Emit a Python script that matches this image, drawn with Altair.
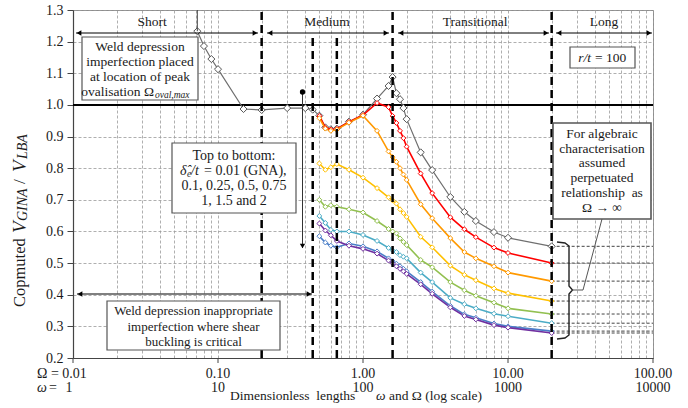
import altair as alt
import pandas as pd

# ---------------- data ----------------
series_names = ["0.01 (GNA)", "0.1", "0.25", "0.5", "0.75", "1", "1.5", "2"]
series_colors = ["#6f6f6f", "#ff0000", "#ff9900", "#ffc000", "#92c050",
                 "#4bacc6", "#4a7ec8", "#7030a0"]

omega_gna = [0.072, 0.08, 0.09, 0.1, 0.15, 0.2, 0.3, 0.4, 0.45, 0.5, 0.55, 0.6,
             0.66, 0.8, 1.0, 1.25, 1.5, 1.6, 1.7, 1.8, 1.9, 2.0, 2.5, 3, 4, 5,
             6, 8, 10, 20]
ratio_gna = [1.233, 1.186, 1.145, 1.113, 0.987, 0.984, 0.99, 0.99, 0.985, 0.966,
             0.929, 0.923, 0.925, 0.947, 0.969, 1.02, 1.06, 1.088, 1.037, 1.018,
             0.99, 0.955, 0.85, 0.794, 0.709, 0.662, 0.633, 0.598, 0.58, 0.553]

omega_imp = [0.5, 0.55, 0.6, 0.66, 0.8, 1.0, 1.25, 1.5, 1.6, 1.7, 1.8, 1.9, 2.0,
             2.5, 3, 4, 5, 6, 8, 10, 20]
ratio_01 = [0.965, 0.928, 0.922, 0.924, 0.946, 0.968, 1.006, 0.993, 0.965, 0.943,
            0.918, 0.895, 0.868, 0.783, 0.721, 0.645, 0.607, 0.582, 0.549, 0.532, 0.5]
ratio_025 = [0.958, 0.925, 0.918, 0.922, 0.944, 0.966, 0.918, 0.853, 0.835, 0.82,
             0.8, 0.78, 0.763, 0.686, 0.642, 0.579, 0.535, 0.515, 0.49, 0.47, 0.443]
ratio_05 = [0.815, 0.795, 0.803, 0.813, 0.795, 0.77, 0.737, 0.708, 0.698, 0.688,
            0.67, 0.658, 0.646, 0.583, 0.55, 0.492, 0.463, 0.446, 0.42, 0.405, 0.38]
ratio_075 = [0.70, 0.678, 0.683, 0.678, 0.67, 0.66, 0.633, 0.608, 0.60, 0.594,
             0.578, 0.567, 0.557, 0.51, 0.487, 0.44, 0.414, 0.397, 0.375, 0.357, 0.339]
ratio_1 = [0.649, 0.627, 0.605, 0.60, 0.60, 0.589, 0.57, 0.548, 0.54, 0.535,
           0.525, 0.52, 0.515, 0.47, 0.44, 0.39, 0.37, 0.357, 0.34, 0.332, 0.31]
ratio_15 = [0.585, 0.565, 0.555, 0.55, 0.562, 0.553, 0.537, 0.515, 0.506, 0.498,
            0.49, 0.482, 0.474, 0.44, 0.41, 0.365, 0.338, 0.327, 0.309, 0.30, 0.285]
ratio_2 = [0.625, 0.603, 0.588, 0.57, 0.555, 0.545, 0.53, 0.508, 0.499, 0.49,
           0.482, 0.474, 0.466, 0.433, 0.403, 0.36, 0.333, 0.322, 0.304, 0.296, 0.279]

region_names = ["Short", "Medium", "Transitional", "Long"]
region_bounds = [0.2, 0.45, 0.66, 1.6, 20]
x_major = [0.1, 1, 10, 100]
x_labels_omega = ["0.10", "1.00", "10.00", "100.00"]
x_labels_small = ["10", "100", "1000", "10000"]
y_ticks = [0.2, 0.3, 0.4, 0.5, 0.6, 0.7, 0.8, 0.9, 1.0, 1.1, 1.2, 1.3]

# ---------------- layout helpers ----------------
SERIF = "Liberation Serif"
INK = "#1a1a1a"
NB = "\u00a0"
W, H, LEFT, TOP = 580, 348, 73, 10
XS = alt.Scale(type="log", domain=[0.01, 100], nice=False)
YS = alt.Scale(domain=[0.2, 1.3], nice=False, zero=False)
x_grid = [round(k * 10 ** e, 6) for e in range(-2, 2) for k in range(1, 10)] + [100]
XA = alt.Axis(values=x_grid, labels=False, ticks=False, grid=True, gridColor="#9a9a9a",
              gridDash=[3, 2], gridWidth=0.8, domainColor="#444444", domainWidth=1.2,
              title=None)
YA = alt.Axis(values=y_ticks, format=".1f", labelFont=SERIF, labelFontSize=14,
              labelColor=INK, tickColor="#444444", tickSize=6, labelPadding=4,
              grid=True, gridColor="#9a9a9a", gridDash=[3, 2], gridWidth=0.8,
              domainColor="#444444", domainWidth=1.2, title=None)


def px2x(px):
    return 10 ** (-2 + (px - LEFT) * 4.0 / W)


def py2y(py):
    return 1.3 - (py - TOP) * 1.1 / H


def XE(f="x"):
    return alt.X(f"{f}:Q", scale=XS, axis=XA)


def YE(f="y"):
    return alt.Y(f"{f}:Q", scale=YS, axis=YA)


ONE = pd.DataFrame({"a": [0]})
layers = []


def T(text, px, py, size=13, align="center", italic=False, angle=0, outside=False):
    props = dict(text=text.replace(" ", NB), font=SERIF, fontSize=size, align=align,
                 baseline="middle", fontStyle="italic" if italic else "normal", color=INK)
    if angle:
        props["angle"] = angle
    if outside:
        return alt.Chart(ONE).mark_text(**props).encode(
            x=alt.value(px - LEFT), y=alt.value(py - TOP))
    d = pd.DataFrame({"x": [px2x(px)], "y": [py2y(py)]})
    return alt.Chart(d).mark_text(**props).encode(x=XE(), y=YE())


def box(px1, py1, px2, py2, sw=1.2):
    d = pd.DataFrame({"x": [px2x(px1)], "x2": [px2x(px2)], "y": [py2y(py1)], "y2": [py2y(py2)]})
    return alt.Chart(d).mark_rect(fill="white", stroke="#555555", strokeWidth=sw).encode(
        x=XE(), x2="x2:Q", y=YE(), y2="y2:Q")


def head(px, py, shape, size=30):
    d = pd.DataFrame({"x": [px2x(px)], "y": [py2y(py)]})
    return alt.Chart(d).mark_point(shape=shape, filled=True, color="black", size=size,
                                   opacity=1).encode(x=XE(), y=YE())


def hline_arrow(px1, px2, py):
    d = pd.DataFrame({"x": [px2x(px1)], "x2": [px2x(px2)], "y": [py2y(py)]})
    r = alt.Chart(d).mark_rule(color="black", strokeWidth=1).encode(x=XE(), x2="x2:Q", y=YE())
    return [r, head(px1 + 3, py, "triangle-left"), head(px2 - 3, py, "triangle-right")]


# ---------------- axes / grid ----------------
axis_df = pd.DataFrame({"x": [0.01, 100], "y": [0.2, 1.3]})
layers.append(alt.Chart(axis_df).mark_point(opacity=0).encode(x=XE(), y=YE()))

# major x ticks
tick_df = pd.DataFrame({"x": [0.01] + x_major})
layers.append(alt.Chart(tick_df).mark_rule(color="#444444").encode(
    x=XE(), y=alt.value(H), y2=alt.value(H + 5)))

# dashed extension lines at the right (perpetuated relationship)
ends = [ratio_gna[-1], ratio_01[-1], ratio_025[-1], ratio_05[-1], ratio_075[-1],
        ratio_1[-1], ratio_15[-1], ratio_2[-1]]
ext_df = pd.DataFrame({"x": [20] * len(ends), "x2": [100] * len(ends), "y": ends})
layers.append(alt.Chart(ext_df).mark_rule(color="#444444", strokeDash=[3, 2],
              strokeWidth=1).encode(x=XE(), x2="x2:Q", y=YE()))

# 1.0 line
layers.append(alt.Chart(pd.DataFrame({"y": [1.0]})).mark_rule(color="black", strokeWidth=2)
              .encode(y=YE()))

# ---------------- series ----------------
rows = []
for name, vals in zip(series_names[1:], [ratio_01, ratio_025, ratio_05, ratio_075,
                                          ratio_1, ratio_15, ratio_2]):
    for o, v in zip(omega_imp, vals):
        rows.append({"x": o, "y": v, "s": name})
imp = pd.DataFrame(rows)
gna = pd.DataFrame({"x": omega_gna, "y": ratio_gna, "s": series_names[0]})

cscale = alt.Scale(domain=series_names, range=series_colors)

layers.append(alt.Chart(gna).mark_line(color="#6f6f6f", strokeWidth=1.2).encode(x=XE(), y=YE()))
layers.append(alt.Chart(gna).mark_point(shape="diamond", filled=True, fill="white",
              stroke="#555555", strokeWidth=1, size=50, opacity=1).encode(x=XE(), y=YE()))

layers.append(alt.Chart(imp).mark_line(strokeWidth=1.6).encode(
    x=XE(), y=YE(), color=alt.Color("s:N", scale=cscale, legend=None)))
layers.append(alt.Chart(imp).mark_point(shape="diamond", filled=True, strokeWidth=1,
              size=24, opacity=1).encode(
    x=XE(), y=YE(), stroke=alt.Color("s:N", scale=cscale, legend=None),
    fill=alt.value("white")))

# region boundary lines
reg_df = pd.DataFrame({"x": region_bounds,
                       "y": [0.2] * 5,
                       "y2": [1.3, py2y(37), py2y(37), 1.3, 1.3]})
layers.append(alt.Chart(reg_df).mark_rule(color="black", strokeWidth=2.5,
              strokeDash=[8, 5]).encode(x=XE(), y=YE(), y2="y2:Q"))

# peak ovalisation marker line
layers.append(alt.Chart(pd.DataFrame({"x": [omega_gna[0]], "y": [ratio_gna[0]], "y2": [1.3]}))
              .mark_rule(color="#444444", strokeWidth=1).encode(x=XE(), y=YE(), y2="y2:Q"))

# ---------------- annotations ----------------
for a, b in [(76, 258), (267, 389), (398, 549), (556, 652)]:
    layers += hline_arrow(a, b, 33)
layers += hline_arrow(77, 312, 294)

for name, px in zip(region_names, [152, 327, 475, 604]):
    layers.append(T(name, px, 22, size=13.5))

# vertical arrow "top to bottom"
va = pd.DataFrame({"x": [px2x(302.5)], "y": [py2y(92)], "y2": [py2y(248)]})
layers.append(alt.Chart(va).mark_rule(color="#333333", strokeWidth=1).encode(
    x=XE(), y=YE(), y2="y2:Q"))
layers.append(head(302.5, 92, "circle", size=28))
layers.append(head(302.5, 246, "triangle-down", size=28))

# box 1
layers.append(box(82, 37, 198, 100))
for s, py in [("Weld depression", 47), ("imperfection placed", 62),
              ("at location of peak", 77)]:
    layers.append(T(s, 140, py, size=13.5))
layers.append(T("ovalisation Ω", 154, 92, size=13.5, align="right"))
layers.append(T("oval,max", 155, 95, size=9.5, align="left", italic=True))

# box 2
layers.append(box(172, 143, 296, 213))
layers.append(T("Top to bottom:", 234, 156, size=14))
layers.append(T("δ̂", 180, 171, size=14, align="left", italic=True))
layers.append(T("e", 187, 174, size=9.5, align="left", italic=True))
layers.append(T(" /t", 191, 171, size=14, align="left", italic=True))
layers.append(T("= 0.01 (GNA),", 204, 171, size=14, align="left"))
layers.append(T("0.1, 0.25, 0.5, 0.75", 234, 186, size=14))
layers.append(T("1, 1.5 and 2", 234, 201, size=14))

# box 3
layers.append(box(107, 301, 280, 350))
for s, py in [("Weld depression inappropriate", 311), ("imperfection where shear", 327),
              ("buckling is critical", 342)]:
    layers.append(T(s, 193.5, py, size=13))

# box 4
layers.append(box(570, 47, 635, 68))
layers.append(T("r/t", 591, 57.5, size=13.5, align="right", italic=True))
layers.append(T("= 100", 595, 57.5, size=13.5, align="left"))

# box 5 + brace + connector
brace = pd.DataFrame({
    "x": [px2x(p) for p in [557, 565, 569, 569, 572.5, 569, 569, 565, 557]],
    "y": [py2y(p) for p in [242, 243, 246, 286, 290, 294, 335, 338, 339]],
    "o": list(range(9))})
layers.append(alt.Chart(brace).mark_line(color="#222222", strokeWidth=1.4).encode(
    x=XE(), y=YE(), order="o:Q"))
conn = pd.DataFrame({"x": [px2x(p) for p in [572.5, 583, 602]],
                     "y": [py2y(p) for p in [290, 290, 219]], "o": [0, 1, 2]})
layers.append(alt.Chart(conn).mark_line(color="#555555", strokeWidth=1).encode(
    x=XE(), y=YE(), order="o:Q"))
layers.append(box(553, 123, 651, 219, sw=1.6))
for s, py in [("For algebraic", 134), ("characterisation", 149), ("assumed", 163),
              ("perpetuated", 178), ("relationship  as", 193), ("Ω → ∞", 208)]:
    layers.append(T(s, 602, py, size=13.5))

# ---------------- x axis labels & title ----------------
lab_df = pd.DataFrame({"x": x_major, "t1": x_labels_omega, "t2": x_labels_small})
layers.append(alt.Chart(lab_df).mark_text(font=SERIF, fontSize=14, color=INK).encode(
    x=XE(), y=alt.value(374 - TOP), text="t1:N"))
layers.append(alt.Chart(lab_df).mark_text(font=SERIF, fontSize=14, color=INK).encode(
    x=XE(), y=alt.value(388 - TOP), text="t2:N"))
layers.append(T("Ω = 0.01", 37, 374, size=14, align="left", outside=True))
layers.append(T("ω", 37, 388, size=14, align="left", italic=True, outside=True))
layers.append(T("=", 49, 388, size=14, align="left", outside=True))
layers.append(T("1", 69, 388, size=14, outside=True))
layers.append(T("Dimensionless  lengths", 230, 396, size=13.5, align="left", outside=True))
layers.append(T("ω", 376, 396, size=13.5, align="left", italic=True, outside=True))
layers.append(T("and Ω (log scale)", 389, 396, size=13.5, align="left", outside=True))

# ---------------- y axis title (rotated pieces) ----------------
layers.append(T("Copmuted", 20, 307, size=16.5, align="left", angle=270, outside=True))
layers.append(T("V", 20, 233, size=19, align="left", italic=True, angle=270, outside=True))
layers.append(T("GINA", 23, 221, size=14, align="left", italic=True, angle=270, outside=True))
layers.append(T("/", 20, 184, size=17, align="left", angle=270, outside=True))
layers.append(T("V", 20, 172, size=19, align="left", italic=True, angle=270, outside=True))
layers.append(T("LBA", 23, 159, size=14, align="left", italic=True, angle=270, outside=True))

chart = alt.layer(*layers).properties(
    width=W, height=H,
    padding={"left": LEFT, "top": TOP, "right": 688 - LEFT - W, "bottom": 408 - TOP - H},
    autosize=alt.AutoSizeParams(type="none"),
    background="white",
).configure_view(stroke="#8c8c8c", strokeWidth=1)

chart.save("out.html", embed_options={"renderer": "svg", "actions": False})
